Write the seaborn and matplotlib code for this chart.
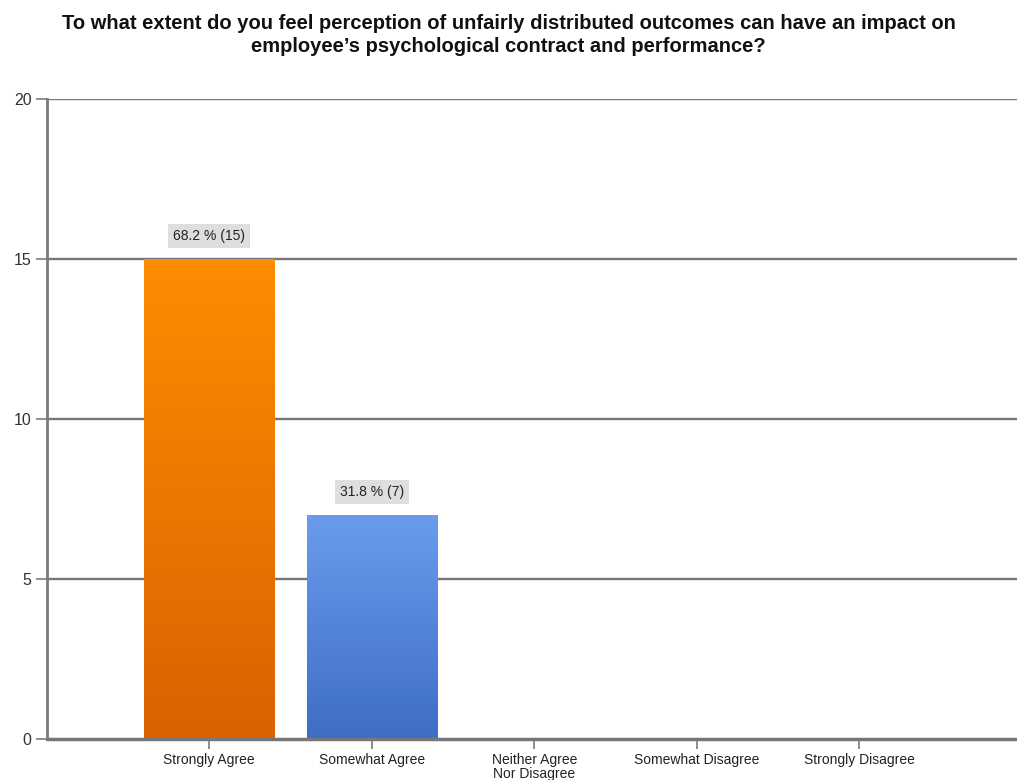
import numpy as np
import pandas as pd
import matplotlib
matplotlib.use("Agg")
import matplotlib.pyplot as plt
import seaborn as sns
from matplotlib.colors import LinearSegmentedColormap

# Dados
categorias = ["Strongly Agree", "Somewhat Agree", "Neither Agree\nNor Disagree",
              "Somewhat Disagree", "Strongly Disagree"]
respostas = [15, 7, 0, 0, 0]
percentuais = [68.2, 31.8, 0.0, 0.0, 0.0]
cores_topo = ["#ff8c00", "#6a9cec", "#ffffff", "#ffffff", "#ffffff"]
cores_base = ["#d96200", "#3f6dc6", "#ffffff", "#ffffff", "#ffffff"]

titulo = ("To what extent do you feel perception of unfairly distributed outcomes can have an impact on\n"
          "employee\u2019s psychological contract and performance?")

df = pd.DataFrame({"categoria": categorias, "respostas": respostas})

sns.set_style("white")
plt.rcParams["font.family"] = ["Liberation Sans", "DejaVu Sans"]

fig = plt.figure(figsize=(10.17, 7.8), dpi=100)
ax = fig.add_axes([0.046, 0.053, 0.954, 0.82])

sns.barplot(data=df, x="categoria", y="respostas", color="white", width=0.8, ax=ax)

# Gradiente vertical em cada barra
for patch, c1, c2, v in zip(ax.patches, cores_topo, cores_base, respostas):
    if v == 0:
        continue
    x0, y0 = patch.get_x(), patch.get_y()
    w, h = patch.get_width(), patch.get_height()
    cmap = LinearSegmentedColormap.from_list("g", [c2, c1])
    grad = np.linspace(0, 1, 256).reshape(-1, 1)
    im = ax.imshow(grad, cmap=cmap, extent=[x0, x0 + w, y0, y0 + h],
                   origin="lower", aspect="auto", zorder=3)
    im.set_clip_path(patch)
    patch.set_edgecolor("none")

ax.set_xlim(-1.0, 4.97)
ax.set_ylim(0, 20)
ax.set_yticks([0, 5, 10, 15, 20])
ax.set_xlabel("")
ax.set_ylabel("")

for y in [5, 10, 15, 20]:
    ax.axhline(y, color="#777777", lw=1.7, zorder=1)
ax.axhline(0, color="#777777", lw=2.5, zorder=4, clip_on=False)

for s in ["top", "right", "bottom"]:
    ax.spines[s].set_visible(False)
ax.spines["left"].set_color("#7a7a7a")
ax.spines["left"].set_linewidth(2)

ax.tick_params(axis="y", length=8, width=1.2, color="#7a7a7a", labelsize=11.5,
               labelcolor="#333333", pad=3, left=True)
ax.tick_params(axis="x", length=7, width=1.2, color="#7a7a7a", labelsize=10,
               labelcolor="#222222", pad=3, bottom=True)
for lbl in ax.get_xticklabels():
    lbl.set_linespacing(1.0)

# Rótulos de valor
for i, (v, p) in enumerate(zip(respostas, percentuais)):
    if v == 0:
        continue
    ax.text(i, v + 0.5, f"{p:.1f} % ({v})", ha="center", va="bottom", fontsize=10,
            color="#222222", zorder=5,
            bbox=dict(boxstyle="square,pad=0.35", fc="#dedede", ec="none"))

fig.suptitle(titulo, fontsize=14.5, fontweight="bold", y=0.982, x=0.5,
             linespacing=1.25, color="#111111")

plt.savefig("out.png", dpi=100)
